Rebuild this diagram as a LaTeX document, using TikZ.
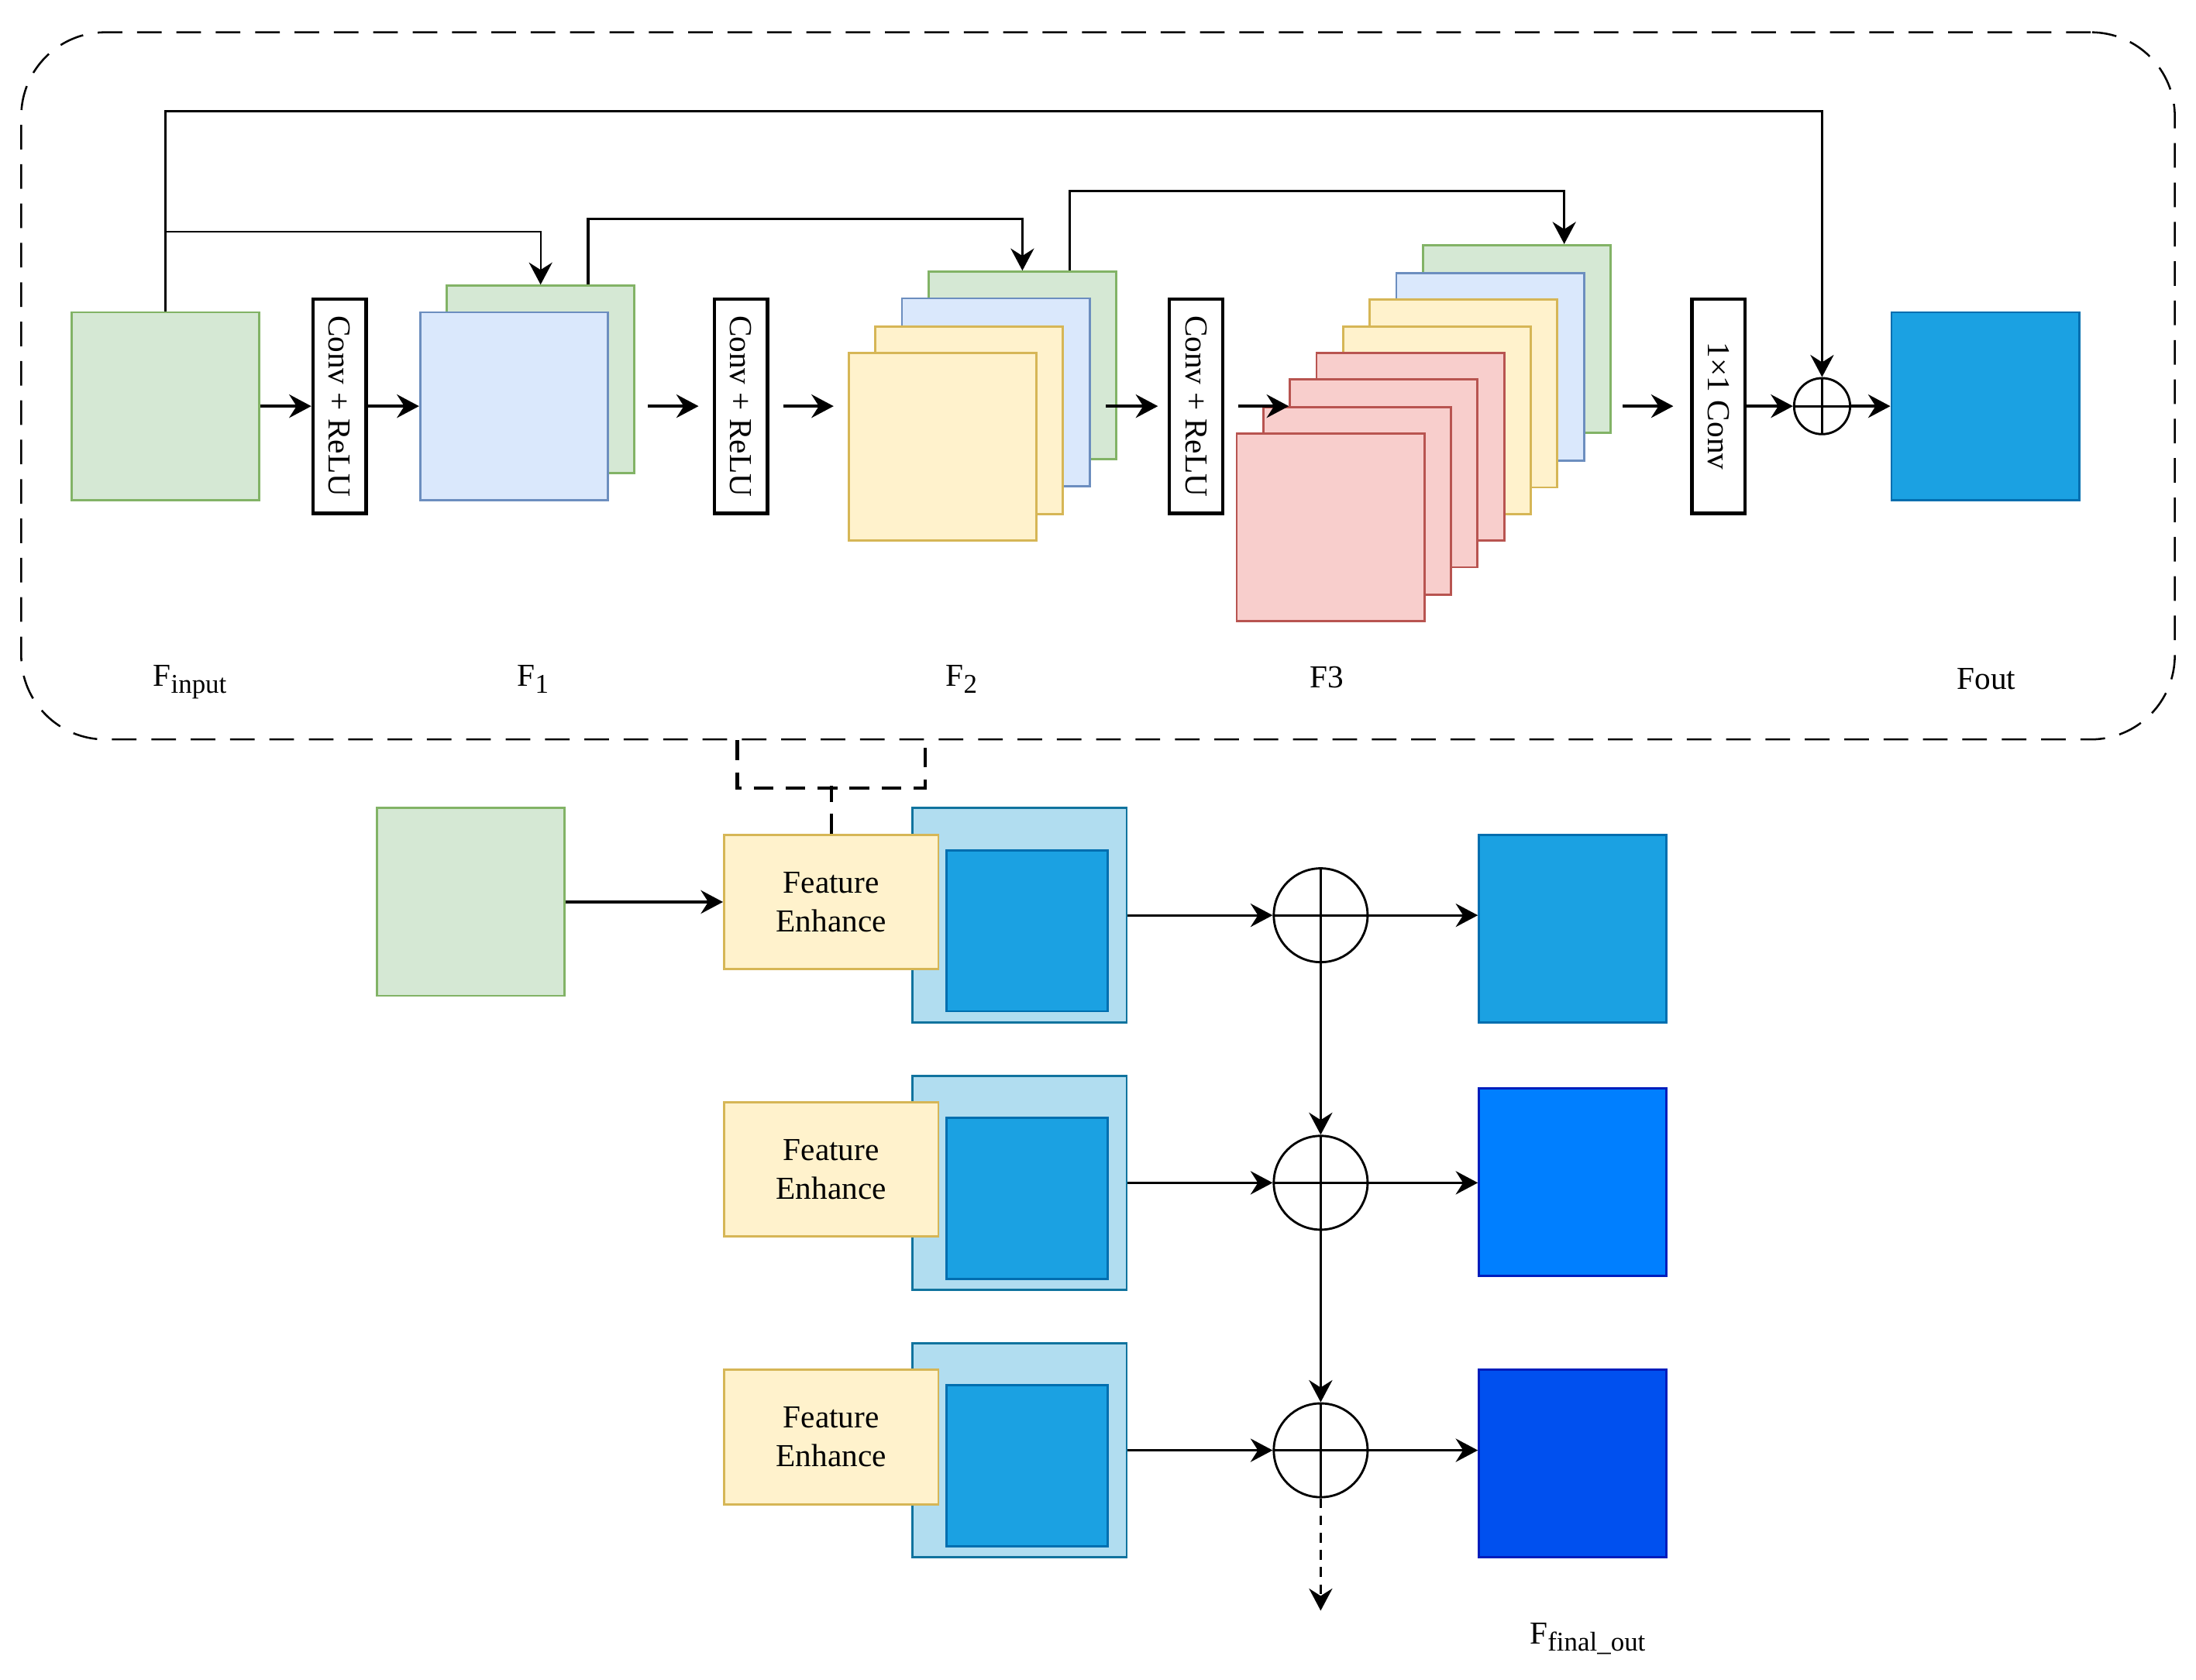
\documentclass[tikz,border=0pt]{standalone}
\usepackage{fontspec}
\setmainfont{Liberation Serif}
\usetikzlibrary{arrows.meta,calc}
\newcommand{\lowtag}[1]{\raisebox{-0.45ex}{\fontsize{11}{13}\selectfont #1}}

\begin{document}
\begin{tikzpicture}[x=0.02cm, y=-0.02cm, font=\fontsize{13}{15.6}\selectfont]
  \definecolor{GreenFill}{HTML}{D5E8D4}
  \definecolor{GreenLine}{HTML}{82B366}
  \definecolor{BlueFill}{HTML}{DAE8FC}
  \definecolor{BlueLine}{HTML}{6C8EBF}
  \definecolor{YellowFill}{HTML}{FFF2CC}
  \definecolor{YellowLine}{HTML}{D6B656}
  \definecolor{RedFill}{HTML}{F8CECC}
  \definecolor{RedLine}{HTML}{B85450}
  \definecolor{CyanFill}{HTML}{1BA1E2}
  \definecolor{CyanLine}{HTML}{006EAF}
  \definecolor{SkyFill}{HTML}{B1DDF0}
  \definecolor{SkyLine}{HTML}{10739E}
  \definecolor{AzureFill}{HTML}{007FFF}
  \definecolor{AzureLine}{HTML}{001DBC}
  \definecolor{CobaltFill}{HTML}{0050EF}
  \definecolor{CobaltLine}{HTML}{001DBC}

  \tikzset{
    frame/.style={draw, line width=0.8pt, dash pattern=on 10pt off 6pt, rounded corners=1.2cm,
      minimum width=30.76cm, minimum height=10.1cm, inner sep=0pt},
    brk/.style={line width=1.3pt, dash pattern=on 8pt off 5pt},
    fmap/.style={draw=#1Line, fill=#1Fill, line width=0.9pt, minimum size=2.68cm, inner sep=0pt},
    convbox/.style={draw, line width=1.4pt, rotate=-90, minimum width=3.06cm, minimum height=0.76cm, inner sep=0pt},
    enhance/.style={fmap=Yellow, minimum width=3.06cm, minimum height=1.92cm, align=center},
    oplus/.style={circle, draw, line width=0.9pt, minimum size=#1, inner sep=0pt,
      path picture={\draw[line width=0.9pt] (path picture bounding box.north) -- (path picture bounding box.south)
        (path picture bounding box.west) -- (path picture bounding box.east);}},
    arr/.style={-{Stealth[length=9pt, width=9.5pt, inset=3pt]}, line width=1.2pt},
    skip/.style={arr, line width=1pt},
    tag/.style={anchor=base west, inner sep=0pt}
  }

  \useasboundingbox (0,0) rectangle (1568,1199);

  % Residual block
  \node[frame] (block) at (784,275.5) {};

  \node[fmap=Green] (fin) at (118,290) {};
  \node[convbox] (c1) at (242.5,290) {Conv + ReLU};
  \foreach \i/\x/\y/\c in {1/386/271/Green, 2/367/290/Blue}
    \node[fmap=\c] (f1-\i) at (\x,\y) {};
  \node[convbox] (c2) at (529,290) {Conv + ReLU};
  \foreach \i/\x/\y/\c in {1/730/261/Green, 2/711/280/Blue, 3/692/300/Yellow, 4/673/319/Yellow}
    \node[fmap=\c] (f2-\i) at (\x,\y) {};
  \node[convbox] (c3) at (854,290) {Conv + ReLU};
  \foreach \i/\x/\y/\c in {1/1083/242/Green, 2/1064/262/Blue, 3/1045/281/Yellow, 4/1026/300/Yellow,
                           5/1007/319/Red, 6/988/338/Red, 7/969/357.5/Red, 8/950/376.5/Red}
    \node[fmap=\c] (f3-\i) at (\x,\y) {};
  \node[convbox] (c4) at (1227,290) {1×1 Conv};
  \node[oplus=0.8cm] (add) at (1301,290) {};
  \node[fmap=Cyan] (fout) at (1417.5,290) {};

  \draw[arr] (fin) -- (c1);
  \draw[arr] (c1) -- (f1-2);
  \draw[arr, shorten <=0.18cm, shorten >=0.2cm] (f1-1.east |- c2) -- (c2);
  \draw[arr, shorten <=0.2cm, shorten >=0.2cm] (c2) -- (f2-4.west |- c2);
  \draw[arr, shorten >=0.14cm] ($(f2-1.east |- c3)+(-8,0)$) -- (c3);
  \draw[arr, shorten <=0.2cm] (c3) -- (f3-6.west |- c3);
  \draw[arr, shorten <=0.16cm, shorten >=0.24cm] (f3-1.east |- c4) -- (c4);
  \draw[arr] (c4) -- (add);
  \draw[arr] (add) -- (fout);

  % Skip connections
  \draw[skip] (fin.north) -- ++(0,-143) -| (add.north);
  \draw[skip, line width=0.7pt] ($(fin.north)+(0,-57)$) -| (f1-1.north);
  \draw[skip] ($(f1-1.north west)!0.75!(f1-1.north east)$) -- ++(0,-47) -| (f2-1.north);
  \draw[skip] ($(f2-1.north west)!0.75!(f2-1.north east)$) -- ++(0,-57)
    -| ($(f3-1.north west)!0.75!(f3-1.north east)$);

  \node[tag] (lin) at (109,490) {F\lowtag{input}};
  \node[tag] (l1) at (369,490) {F\lowtag{1}};
  \node[tag] (l2) at (675,490) {F\lowtag{2}};
  \node[tag] (l3) at (935,491) {F3};
  \node[tag] (lout) at (1397,492) {Fout};

  % Multi-scale fusion
  \node[fmap=Green] (gin) at (336,644) {};
  \foreach \i/\y in {1/644, 2/835, 3/1026} {
    \node[fmap=Sky, minimum size=3.06cm] (lb\i) at (728,\y+9.5) {};
    \node[fmap=Cyan, minimum size=2.3cm] (core\i) at (733.5,\y+20.5) {};
    \node[enhance] (fe\i) at (593.5,\y) {Feature\\Enhance};
    \node[oplus=1.34cm] (p\i) at (943,\y+9.5) {};
    \draw[arr, line width=0.9pt] (lb\i) -- (p\i);
  }
  \foreach \i/\y/\c in {1/663/Cyan, 2/844/Azure, 3/1045/Cobalt} {
    \node[fmap=\c] (out\i) at (1123,\y) {};
    \draw[arr, line width=0.9pt] (p\i) -- (p\i -| out\i.west);
  }

  \draw[brk] ($(block.south west)+(512,0)$) -- ++(0,34) -| ($(block.south west)+(646,0)$);
  \draw[brk] (fe1.north) -- ++(0,-34);
  \draw[arr] (gin) -- (fe1);
  \draw[arr, line width=0.9pt] (p1) -- (p2);
  \draw[arr, line width=0.9pt] (p2) -- (p3);
  \coordinate (fnext) at (943,1150);
  \draw[arr, line width=0.9pt, dash pattern=on 4pt off 3pt] (p3) -- (fnext);

  \node[tag] (lfinal) at (1092,1174) {F\lowtag{final\_out}};
\end{tikzpicture}
\end{document}
